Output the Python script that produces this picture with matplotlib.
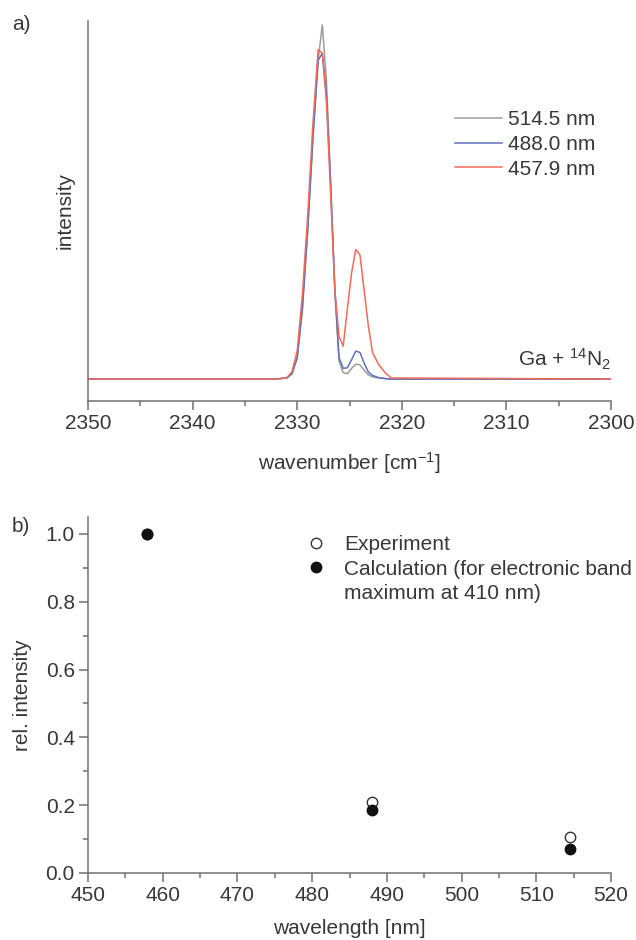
import matplotlib
matplotlib.use("Agg")
import matplotlib.pyplot as plt
from matplotlib.ticker import MultipleLocator, FormatStrFormatter

plt.rcParams['font.family'] = ['Liberation Sans', 'DejaVu Sans']
plt.rcParams['mathtext.fontset'] = 'custom'
plt.rcParams['mathtext.rm'] = 'Liberation Sans'
plt.rcParams['mathtext.it'] = 'Liberation Sans:italic'
plt.rcParams['mathtext.bf'] = 'Liberation Sans:bold'

# ---- panel a data: Raman spectra (wavenumber in cm^-1, normalized intensity)
wavenumber = [2350.0, 2332.0, 2331.0, 2330.5, 2330.0, 2329.5, 2329.0, 2328.5, 2328.0,
              2327.6, 2327.2, 2326.8, 2326.4, 2326.0, 2325.6, 2325.2, 2324.8, 2324.4,
              2324.0, 2323.6, 2323.2, 2322.8, 2322.2, 2321.5, 2321.0, 2300.0]
int_514 = [0.0, 0.0, 0.003, 0.015, 0.06, 0.2, 0.42, 0.68, 0.90,
           1.0, 0.84, 0.55, 0.25, 0.05, 0.018, 0.015, 0.03, 0.042,
           0.04, 0.025, 0.012, 0.006, 0.003, 0.001, 0.0, 0.0]
int_488 = [0.0, 0.0, 0.003, 0.015, 0.06, 0.2, 0.42, 0.68, 0.90,
           0.92, 0.80, 0.55, 0.25, 0.06, 0.03, 0.032, 0.055, 0.079,
           0.075, 0.045, 0.02, 0.01, 0.004, 0.001, 0.0, 0.0]
int_458 = [0.0, 0.0, 0.004, 0.02, 0.08, 0.24, 0.46, 0.72, 0.93,
           0.92, 0.78, 0.52, 0.25, 0.12, 0.093, 0.2, 0.3, 0.366,
           0.35, 0.25, 0.15, 0.075, 0.04, 0.015, 0.003, 0.0]
spec_labels = ['514.5 nm', '488.0 nm', '457.9 nm']
spec_colors = ['#9c9c9c', '#5f70c0', '#f26a58']

# ---- panel b data: relative intensity vs excitation wavelength
wl = [457.9, 488.0, 514.5]
rel_exp = [1.0, 0.21, 0.105]
rel_calc = [1.0, 0.185, 0.072]

TXT = '#383838'
AX = '#707070'
FS = 15

fig = plt.figure(figsize=(6.36, 9.40), dpi=100)

# ---------------- panel a ----------------
ax1 = fig.add_axes([0.1384, 0.5734, 0.8223, 0.4043])
for y, lab, c in zip([int_514, int_488, int_458], spec_labels, spec_colors):
    ax1.plot(wavenumber, y, color=c, lw=1.1, label=lab)
ax1.set_xlim(2350, 2300)
ax1.set_ylim(-0.062, 1.011)
ax1.xaxis.set_major_locator(MultipleLocator(10))
ax1.xaxis.set_minor_locator(MultipleLocator(5))
ax1.set_yticks([])
for s in ['top', 'right']:
    ax1.spines[s].set_visible(False)
for s in ['left', 'bottom']:
    ax1.spines[s].set_color(AX)
    ax1.spines[s].set_linewidth(1.1)
ax1.tick_params(axis='x', which='major', direction='out', length=6.5, width=1.1,
                color=AX, labelcolor=TXT, labelsize=FS, pad=3)
ax1.tick_params(axis='x', which='minor', direction='out', length=3.5, width=1.1, color=AX)
ax1.set_xlabel('wavenumber [cm$^{-1}$]', fontsize=FS, color=TXT, labelpad=12)
ax1.set_ylabel('intensity', fontsize=FS, color=TXT, labelpad=10)
leg1 = ax1.legend(loc='upper left', bbox_to_anchor=(0.702, 0.765), frameon=False,
                  fontsize=FS, handlelength=2.26, handletextpad=0.3,
                  labelspacing=0.27, borderpad=0, borderaxespad=0)
for t in leg1.get_texts():
    t.set_color(TXT)
ax1.text(1.0, 0.11, 'Ga + $^{14}$N$_2$', transform=ax1.transAxes,
         ha='right', va='center', fontsize=FS, color=TXT)
fig.text(12 / 636, 1 - 25 / 940, 'a)', fontsize=FS, color=TXT, ha='left', va='center')

# ---------------- panel b ----------------
ax2 = fig.add_axes([0.1384, 0.0713, 0.8223, 0.3787])
ax2.plot(wl, rel_exp, linestyle='none', marker='o', ms=7.5, mfc='white',
         mec='#333333', mew=1.0, label='Experiment')
ax2.plot(wl, rel_calc, linestyle='none', marker='o', ms=7.5, mfc='#111111',
         mec='#111111', mew=1.0, label='Calculation (for electronic band')
ax2.plot([], [], linestyle='none', label='maximum at 410 nm)')
ax2.set_xlim(450, 520)
ax2.set_ylim(0, 1.05)
ax2.xaxis.set_major_locator(MultipleLocator(10))
ax2.xaxis.set_minor_locator(MultipleLocator(5))
ax2.yaxis.set_major_locator(MultipleLocator(0.2))
ax2.yaxis.set_minor_locator(MultipleLocator(0.1))
ax2.yaxis.set_major_formatter(FormatStrFormatter('%.1f'))
for s in ['top', 'right']:
    ax2.spines[s].set_visible(False)
for s in ['left', 'bottom']:
    ax2.spines[s].set_color(AX)
    ax2.spines[s].set_linewidth(1.1)
ax2.tick_params(which='major', direction='out', length=6.5, width=1.1,
                color=AX, labelcolor=TXT, labelsize=FS, pad=3)
ax2.tick_params(which='minor', direction='out', length=3.5, width=1.1, color=AX)
ax2.set_xlabel('wavelength [nm]', fontsize=FS, color=TXT, labelpad=10)
ax2.set_ylabel('rel. intensity', fontsize=FS, color=TXT, labelpad=10)
leg2 = ax2.legend(loc='upper left', bbox_to_anchor=(0.412, 0.949), frameon=False,
                  fontsize=FS, handlelength=1.2, handletextpad=0.75,
                  labelspacing=0.27, borderpad=0, borderaxespad=0)
for t in leg2.get_texts():
    t.set_color(TXT)
fig.text(12 / 636, 1 - 527 / 940, 'b)', fontsize=FS, color=TXT, ha='left', va='center')

fig.savefig('out.png', dpi=100)
